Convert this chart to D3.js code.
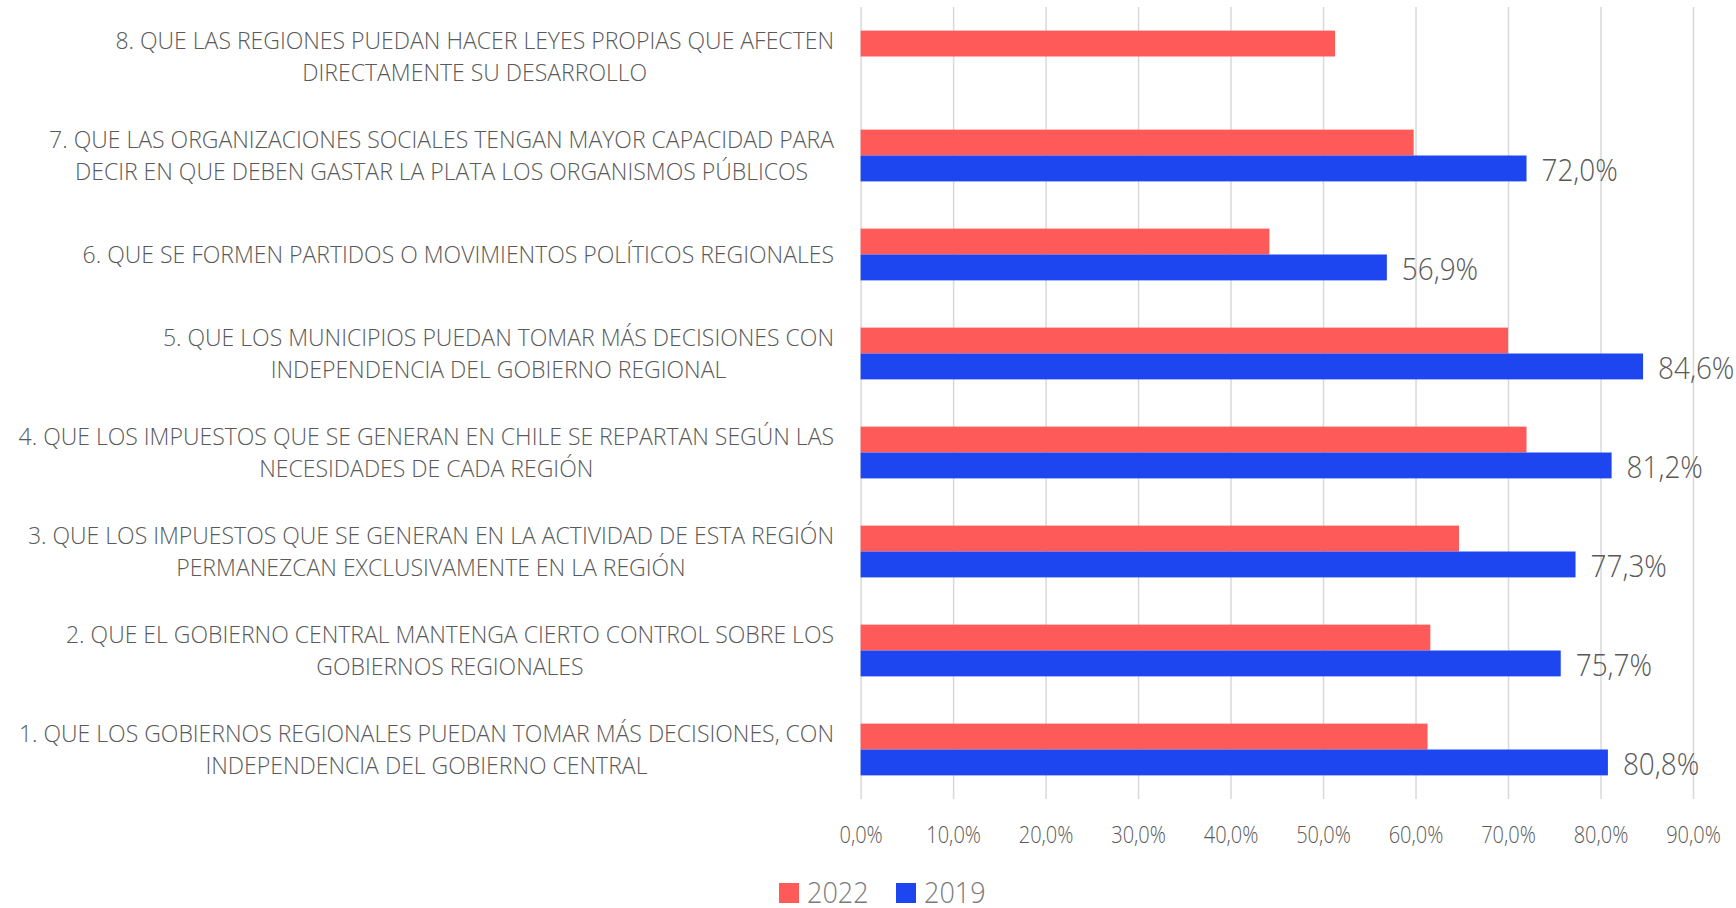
<!DOCTYPE html>
<html>
<head>
<meta charset="utf-8">
<script src="https://cdn.jsdelivr.net/npm/d3@7"></script>
<style>
  html, body { margin: 0; padding: 0; background: #fff; }
  svg { display: block; font-family: 'Open Sans', sans-serif; font-weight: 300; }
</style>
</head>
<body>
<script>
width = 1736;
height = 908;

// categories, bottom to top as in the source sheet
const categories = ['1', '2', '3', '4', '5', '6', '7', '8'];
const categoryLines = [
  ['1. QUE LOS GOBIERNOS REGIONALES PUEDAN TOMAR MÁS DECISIONES, CON', 'INDEPENDENCIA DEL GOBIERNO CENTRAL'],
  ['2. QUE EL GOBIERNO CENTRAL MANTENGA CIERTO CONTROL SOBRE LOS', 'GOBIERNOS REGIONALES'],
  ['3. QUE LOS IMPUESTOS QUE SE GENERAN EN LA ACTIVIDAD DE ESTA REGIÓN', 'PERMANEZCAN EXCLUSIVAMENTE EN LA REGIÓN'],
  ['4. QUE LOS IMPUESTOS QUE SE GENERAN EN CHILE SE REPARTAN SEGÚN LAS', 'NECESIDADES DE CADA REGIÓN'],
  ['5. QUE LOS MUNICIPIOS PUEDAN TOMAR MÁS DECISIONES CON', 'INDEPENDENCIA DEL GOBIERNO REGIONAL'],
  ['6. QUE SE FORMEN PARTIDOS O MOVIMIENTOS POLÍTICOS REGIONALES'],
  ['7. QUE LAS ORGANIZACIONES SOCIALES TENGAN MAYOR CAPACIDAD PARA', 'DECIR EN QUE DEBEN GASTAR LA PLATA LOS ORGANISMOS PÚBLICOS'],
  ['8. QUE LAS REGIONES PUEDAN HACER LEYES PROPIAS QUE AFECTEN', 'DIRECTAMENTE SU DESARROLLO']
];
const series = ['2022', '2019'];
const values2022 = [61.3, 61.6, 64.7, 72.0, 70.0, 44.2, 59.8, 51.3];
const values2019 = [80.8, 75.7, 77.3, 81.2, 84.6, 56.9, 72.0, null];
const xTicks = [0, 10, 20, 30, 40, 50, 60, 70, 80, 90];

const colors = { '2022': '#FF5A5A', '2019': '#1E46F0' };
const textColor = '#595959';
// horizontal squeeze per text kind: the source font has narrow digits
const tickSqueeze = 0.87;
const valueSqueeze = 0.9;
const legendSqueeze = 0.93;

const margin = { top: 7, right: 43, bottom: 109, left: 860.6 };

const locale = d3.formatLocale({ decimal: ',', thousands: '.', grouping: [3], currency: ['', ''] });
const pct = v => locale.format('.1f')(v) + '%';

function main() {
  const svg = d3.select('body').append('svg').attr('width', width).attr('height', height);

  const x = d3.scaleLinear().domain([0, 90]).range([margin.left, width - margin.right]);
  const y = d3
    .scaleBand()
    .domain(categories.slice().reverse())
    .range([margin.top, height - margin.bottom])
    .paddingInner(0.477)
    .paddingOuter(0.2385);
  const ySub = d3.scaleBand().domain(series).range([0, y.bandwidth()]);

  drawGrid(svg, x, y);
  drawBars(svg, x, y, ySub);
  drawCategoryLabels(svg, y);
  drawLegend(svg);
}

function drawGrid(svg, x, y) {
  const [y0, y1] = y.range();
  const axis = d3.axisBottom(x).tickValues(xTicks).tickSize(-(y1 - y0)).tickFormat(pct);

  const g = svg.append('g').attr('transform', `translate(0,${y1})`).call(axis);
  g.select('.domain').remove();
  g.selectAll('.tick line').attr('stroke', '#d9d9d9').attr('stroke-width', 1.5);
  g.selectAll('.tick text')
    .attr('fill', textColor)
    .attr('font-size', 23)
    .attr('font-family', "'Open Sans', sans-serif")
    .attr('y', 0)
    .attr('dy', 0)
    .attr('transform', `translate(0,44) scale(${tickSqueeze},1)`);
}

function drawBars(svg, x, y, ySub) {
  const rows = categories.map((c, i) => ({ cat: c, '2022': values2022[i], '2019': values2019[i] }));

  const groups = svg
    .selectAll('g.row')
    .data(rows)
    .enter()
    .append('g')
    .attr('class', 'row')
    .attr('transform', d => `translate(0,${y(d.cat)})`);

  groups
    .selectAll('rect')
    .data(d => series.filter(s => d[s] != null).map(s => ({ s, v: d[s] })))
    .enter()
    .append('rect')
    .attr('x', x(0))
    .attr('y', d => ySub(d.s))
    .attr('width', d => x(d.v) - x(0))
    .attr('height', ySub.bandwidth())
    .attr('fill', d => colors[d.s]);

  // only the 2019 bars carry value labels
  groups
    .filter(d => d['2019'] != null)
    .append('text')
    .attr('transform', d => `translate(${x(d['2019']) + 15},${ySub('2019') + ySub.bandwidth() / 2 + 13}) scale(${valueSqueeze},1)`)
    .attr('fill', textColor)
    .attr('font-size', 31)
    .text(d => pct(d['2019']));
}

function drawCategoryLabels(svg, y) {
  const rightEdge = 834;
  const lineGap = 31.6;
  const capHalf = 8.3;

  categories.forEach((c, i) => {
    const lines = categoryLines[i];
    const cy = y(c) + y.bandwidth() / 2;
    const g = svg.append('g');
    const texts = g
      .selectAll('text')
      .data(lines)
      .enter()
      .append('text')
      .attr('text-anchor', 'middle')
      .attr('fill', textColor)
      .attr('font-size', 23)
      .text(d => d);

    const widest = d3.max(texts.nodes(), n => n.getComputedTextLength());
    const cx = rightEdge - widest / 2;
    texts
      .attr('x', cx)
      .attr('y', (_, k) => cy + (k - (lines.length - 1) / 2) * lineGap + capHalf);
  });
}

function drawLegend(svg) {
  const startX = 779;
  const top = 883;
  const size = 20;
  const itemX = [0, 117];

  const legend = svg.append('g').attr('id', 'legend');
  legend
    .selectAll('rect')
    .data(series)
    .enter()
    .append('rect')
    .attr('x', (_, i) => startX + itemX[i])
    .attr('y', top)
    .attr('width', size)
    .attr('height', size)
    .attr('fill', d => colors[d]);

  legend
    .selectAll('text')
    .data(series)
    .enter()
    .append('text')
    .attr('transform', (_, i) => `translate(${startX + itemX[i] + 28},${top + 20}) scale(${legendSqueeze},1)`)
    .attr('fill', '#7a7a7a')
    .attr('font-size', 29)
    .text(d => d);
}

main();
</script>
</body>
</html>
